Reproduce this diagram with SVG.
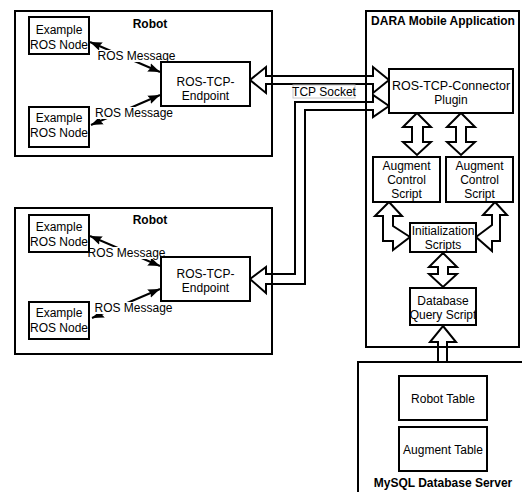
<svg xmlns="http://www.w3.org/2000/svg" width="522" height="492" viewBox="0 0 522 492">
<style>
text{font-family:"Liberation Sans",Arial,sans-serif;font-size:12px;fill:#000;text-anchor:middle}
.b{font-weight:bold}
.box{fill:#fff;stroke:#000;stroke-width:2}
.cont{fill:none;stroke:#000;stroke-width:2}
.blk{fill:none;stroke:#000;stroke-width:2;stroke-linejoin:miter}
.msg{stroke:#000;stroke-width:2;fill:none;marker-start:url(#ah);marker-end:url(#ah)}
.lbl{fill:#fff;stroke:none}
</style>
<defs>
<marker id="ah" markerUnits="userSpaceOnUse" markerWidth="13" markerHeight="10" refX="12" refY="5" orient="auto-start-reverse">
<path d="M0,0.5 L12,5 L0,9.5 L2,5 z" fill="#000"/>
</marker>
</defs>
<rect width="522" height="492" fill="#fff"/>

<g id="robot1">
<rect class="cont" x="15" y="11" width="257" height="145"/>
<text class="b" x="150" y="28">Robot</text>
</g>
<g id="robot2">
<rect class="cont" x="15" y="208" width="257" height="146"/>
<text class="b" x="150" y="223.5">Robot</text>
</g>
<g id="dara">
<rect class="cont" x="366" y="11" width="153" height="336"/>
<text class="b" x="443" y="24.5">DARA Mobile Application</text>
</g>
<g id="mysql">
<rect class="cont" x="358" y="362" width="180" height="150"/>
<text class="b" x="443" y="487">MySQL Database Server</text>
</g>

<g id="connectors">
<line class="msg" x1="90" y1="42" x2="160" y2="72"/>
<line class="msg" x1="160" y1="95" x2="91" y2="125"/>
<line class="msg" x1="90" y1="236" x2="160" y2="266"/>
<line class="msg" x1="160" y1="289" x2="92" y2="318"/>
<rect class="lbl" x="97" y="50" width="80" height="12"/>
<text x="136.5" y="59.5">ROS Message</text>
<rect class="lbl" x="95" y="107" width="77" height="12"/>
<text x="134" y="117">ROS Message</text>
<rect class="lbl" x="87" y="247" width="80" height="12"/>
<text x="126.5" y="256.5">ROS Message</text>
<rect class="lbl" x="95" y="302" width="77" height="12"/>
<text x="133.5" y="311.5">ROS Message</text>

<polygon class="blk" points="250,80 266,67 266,76 373,76 373,67 389,80 373,93 373,84 266,84 266,93"/>
<polygon class="blk" points="250,279 266,267 266,274 295,274 295,102 373,102 373,95 389,106 373,117 373,110 305,110 305,284 266,284 266,293"/>
<rect x="293" y="85" width="62" height="13" fill="#fff" stroke="#c8c8c8" stroke-width="1"/>
<text x="324" y="95.5">TCP Socket</text>

<polygon class="blk" points="417,113 431,127 423,127 423,142 431,142 417,155 403,142 412,142 412,127 403,127"/>
<polygon class="blk" points="461,113 475,127 466,127 466,142 475,142 461,155 447,142 456,142 456,127 447,127"/>
<polygon class="blk" points="389,202 402,216 393,216 393,226 410,237 393,250 393,241 383,241 383,216 375,216"/>
<polygon class="blk" points="495,202 507,215 500,215 500,241 492,241 492,251 476,237 492,225 492,215 483,215"/>
<polygon class="blk" points="443,253 457,267 448,267 448,274 457,274 443,287 429,274 438,274 438,267 429,267"/>
<polygon class="blk" points="443,326 456,342 447,342 447,362 438,362 438,342 430,342"/>
</g>

<g id="r1-node1">
<rect class="box" x="29" y="17" width="60" height="37"/>
<text x="59" y="33.5">Example</text>
<text x="59" y="48.5">ROS Node</text>
</g>
<g id="r1-node2">
<rect class="box" x="29" y="107" width="60" height="40"/>
<text x="59" y="121.5">Example</text>
<text x="59" y="136.5">ROS Node</text>
</g>
<g id="r1-endpoint">
<rect class="box" x="161" y="62" width="89" height="44"/>
<text x="205.5" y="86">ROS-TCP-</text>
<text x="205.5" y="100">Endpoint</text>
</g>
<g id="r2-node1">
<rect class="box" x="29" y="215" width="60" height="37"/>
<text x="59" y="230.5">Example</text>
<text x="59" y="245.5">ROS Node</text>
</g>
<g id="r2-node2">
<rect class="box" x="29" y="302" width="60" height="37"/>
<text x="59" y="316.5">Example</text>
<text x="59" y="331.5">ROS Node</text>
</g>
<g id="r2-endpoint">
<rect class="box" x="161" y="257" width="89" height="44"/>
<text x="205.5" y="277.5">ROS-TCP-</text>
<text x="205.5" y="291.5">Endpoint</text>
</g>
<g id="plugin">
<rect class="box" x="389" y="69" width="124" height="44"/>
<text x="451" y="89.5" style="font-size:12.5px">ROS-TCP-Connector</text>
<text x="451" y="103.5">Plugin</text>
</g>
<g id="augment1">
<rect class="box" x="373" y="157" width="67" height="45"/>
<text x="406.5" y="169.5">Augment</text>
<text x="406.5" y="183.5">Control</text>
<text x="406.5" y="197.5">Script</text>
</g>
<g id="augment2">
<rect class="box" x="446" y="157" width="67" height="45"/>
<text x="479.5" y="169.5">Augment</text>
<text x="479.5" y="183.5">Control</text>
<text x="479.5" y="197.5">Script</text>
</g>
<g id="init">
<rect class="box" x="410" y="223" width="66" height="29"/>
<text x="443" y="234.5">Initialization</text>
<text x="443" y="249">Scripts</text>
</g>
<g id="dbquery">
<rect class="box" x="410" y="288" width="66" height="37"/>
<text x="443" y="305">Database</text>
<text x="443" y="318.5">Query Script</text>
</g>
<g id="robot-table">
<rect class="box" x="399" y="376" width="88" height="44"/>
<text x="443" y="402.5">Robot Table</text>
</g>
<g id="augment-table">
<rect class="box" x="399" y="427" width="88" height="44"/>
<text x="443" y="453.5">Augment Table</text>
</g>
</svg>
